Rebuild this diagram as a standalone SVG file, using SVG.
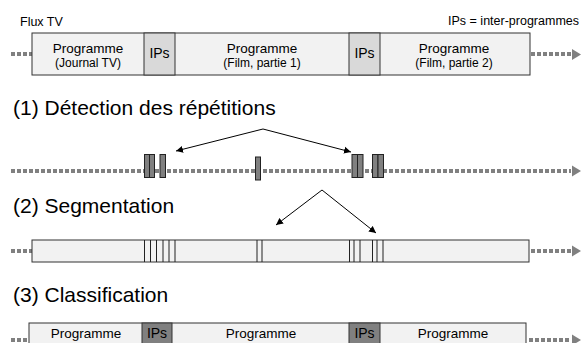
<svg xmlns="http://www.w3.org/2000/svg" width="581" height="343" viewBox="0 0 581 343">
<defs>
<style>
text{font-family:"Liberation Sans",Arial,sans-serif;fill:#000}
.bar{fill:#f2f2f2;stroke:#333;stroke-width:1}
.ip{fill:#d9d9d9;stroke:#333;stroke-width:1}
.ipd{fill:#808080;stroke:#333;stroke-width:1}
.dot{stroke:#808080;stroke-width:4;stroke-dasharray:4 2;fill:none}
.tri{fill:#808080}
.rep{fill:#808080;stroke:#222;stroke-width:1}
.seg{stroke:#222;stroke-width:1}
.arr{stroke:#000;stroke-width:1;fill:none;marker-end:url(#ah)}
.t1{font-size:13.5px;text-anchor:middle}
.t2{font-size:12px;text-anchor:middle}
.tip{font-size:14px;text-anchor:middle}
.h{font-size:21px}
.s{font-size:12.5px}
</style>
<marker id="ah" markerWidth="8" markerHeight="8" refX="7" refY="4" orient="auto" markerUnits="userSpaceOnUse">
<path d="M0,0.5 L7,4 L0,7.5 Z" fill="#000"/>
</marker>
</defs>

<text class="s" x="20" y="26">Flux TV</text>
<text class="s" x="579" y="25" text-anchor="end">IPs = inter-programmes</text>
<text class="h" x="13" y="115">(1) Détection des répétitions</text>
<text class="h" x="13" y="213">(2) Segmentation</text>
<text class="h" x="13" y="302">(3) Classification</text>

<g id="connectors">
<line class="dot" x1="11" y1="54" x2="32" y2="54"/>
<line class="dot" x1="531" y1="54" x2="571" y2="54"/>
<polygon class="tri" points="572,49 581,54.5 572,60"/>
<line class="dot" x1="11" y1="171" x2="571" y2="171"/>
<polygon class="tri" points="572,165.5 581,171 572,176.5"/>
<line class="dot" x1="11" y1="251" x2="32" y2="251"/>
<line class="dot" x1="531" y1="251" x2="571" y2="251"/>
<polygon class="tri" points="572,245.5 581,251 572,256.5"/>
<line class="dot" x1="11" y1="340" x2="28" y2="340"/>
<line class="dot" x1="529" y1="340" x2="571" y2="340"/>
<polygon class="tri" points="572,334.5 581,340 572,345.5"/>
<line class="arr" x1="263" y1="129" x2="176" y2="151"/>
<line class="arr" x1="263" y1="129" x2="351" y2="152"/>
<line class="arr" x1="322" y1="190" x2="276" y2="225"/>
<line class="arr" x1="322" y1="190" x2="376" y2="233"/>
</g>

<g id="stream1">
<rect class="bar" x="32" y="33" width="498" height="42"/>
<rect class="ip" x="144" y="33" width="31" height="42"/>
<rect class="ip" x="349" y="33" width="31" height="42"/>
<text class="t1" x="88" y="52.5">Programme</text>
<text class="t2" x="88" y="66.5">(Journal TV)</text>
<text class="tip" x="159.5" y="58">IPs</text>
<text class="t1" x="262" y="52.5">Programme</text>
<text class="t2" x="262" y="66.5">(Film, partie 1)</text>
<text class="tip" x="364.5" y="58">IPs</text>
<text class="t1" x="454" y="52.5">Programme</text>
<text class="t2" x="454" y="66.5">(Film, partie 2)</text>
</g>

<g id="repetitions">
<rect class="rep" x="144.5" y="154.5" width="5" height="23"/>
<rect class="rep" x="149.5" y="154.5" width="5" height="23"/>
<rect class="rep" x="160" y="154.5" width="5.5" height="23"/>
<rect class="rep" x="255.5" y="157" width="5" height="23"/>
<rect class="rep" x="352" y="154.5" width="5.5" height="23"/>
<rect class="rep" x="357.5" y="154.5" width="5.5" height="23"/>
<rect class="rep" x="372.5" y="154.5" width="5.5" height="23"/>
<rect class="rep" x="378" y="154.5" width="5.5" height="23"/>
</g>

<g id="segmentation">
<rect class="bar" x="32" y="240" width="497" height="22"/>
<g class="seg">
<line x1="144.5" y1="240" x2="144.5" y2="262"/>
<line x1="150.5" y1="240" x2="150.5" y2="262"/>
<line x1="156.5" y1="240" x2="156.5" y2="262"/>
<line x1="163" y1="240" x2="163" y2="262"/>
<line x1="169" y1="240" x2="169" y2="262"/>
<line x1="175" y1="240" x2="175" y2="262"/>
<line x1="257" y1="240" x2="257" y2="262"/>
<line x1="262" y1="240" x2="262" y2="262"/>
<line x1="349.5" y1="240" x2="349.5" y2="262"/>
<line x1="354" y1="240" x2="354" y2="262"/>
<line x1="360" y1="240" x2="360" y2="262"/>
<line x1="372.5" y1="240" x2="372.5" y2="262"/>
<line x1="377" y1="240" x2="377" y2="262"/>
<line x1="383" y1="240" x2="383" y2="262"/>
</g>
</g>

<g id="classification">
<rect class="bar" x="29" y="323" width="497" height="42"/>
<rect class="ipd" x="142" y="323" width="30" height="42"/>
<rect class="ipd" x="349" y="323" width="31" height="42"/>
<text class="t1" x="86" y="338">Programme</text>
<text class="tip" x="157" y="338">IPs</text>
<text class="t1" x="261" y="338">Programme</text>
<text class="tip" x="364.5" y="338">IPs</text>
<text class="t1" x="453" y="338">Programme</text>
</g>
</svg>
